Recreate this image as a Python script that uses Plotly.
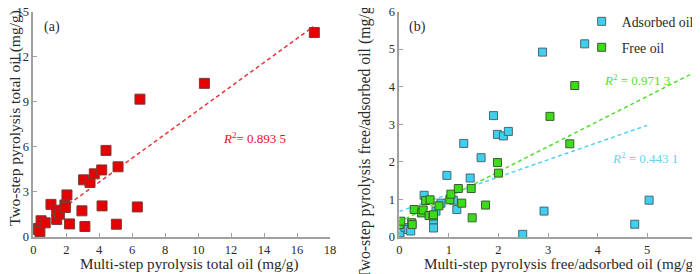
import plotly.graph_objects as go

# ---------------- data ----------------
# Panel (a): total oil
a_multi = [0.10, 0.15, 0.40, 0.47, 0.72, 1.07, 1.42, 1.42, 1.58, 1.92, 1.94, 2.04, 2.20,
           2.95, 3.05, 3.13, 3.44, 3.70, 4.15, 4.17, 4.41, 5.04, 5.14, 6.31, 6.47, 10.38, 17.05]
a_two = [0.57, 0.50, 0.37, 1.08, 0.94, 2.17, 1.78, 1.17, 1.52, 2.13, 1.96, 2.80, 0.87,
         1.74, 3.80, 0.70, 3.63, 4.20, 4.46, 2.07, 5.76, 0.85, 4.67, 2.00, 9.17, 10.22, 13.60]
a_fit_x = [0.1, 17.0]
a_fit_y = [0.55, 14.0]
a_r2 = "0.893 5"

# Panel (b): adsorbed oil
ads_multi = [0.01, 0.01, 0.12, 0.18, 0.23, 0.50, 0.69, 0.69, 0.74, 0.84, 0.96, 1.09, 1.16,
             1.30, 1.43, 1.65, 1.90, 1.98, 2.10, 2.20, 2.49, 2.89, 2.92, 3.74, 4.75, 5.04]
ads_two = [0.01, 0.11, 0.25, 0.20, 0.16, 1.11, 0.46, 0.24, 0.69, 0.90, 1.64, 0.98, 0.73,
           2.49, 1.57, 2.11, 3.23, 2.73, 2.69, 2.81, 0.07, 4.92, 0.69, 5.14, 0.34, 0.98]
# Panel (b): free oil
free_multi = [0.00, 0.03, 0.25, 0.26, 0.30, 0.45, 0.48, 0.53, 0.60, 0.62, 0.68, 0.69, 0.80,
              1.02, 1.04, 1.19, 1.26, 1.45, 1.47, 1.74, 1.98, 2.00, 3.04, 3.44, 3.54]
free_two = [0.33, 0.42, 0.38, 0.33, 0.73, 0.64, 0.72, 0.97, 0.57, 0.99, 0.56, 0.59, 0.83,
            0.99, 1.14, 1.29, 0.90, 1.29, 0.51, 0.85, 1.98, 1.70, 3.21, 2.48, 4.03]
ads_fit_x = [0.0, 5.0]
ads_fit_y = [0.68, 2.97]
free_fit_x = [0.0, 6.0]
free_fit_y = [0.40, 4.41]
ads_r2 = "0.443 1"
free_r2 = "0.971 3"

a_xticks = [0, 2, 4, 6, 8, 10, 12, 14, 16, 18]
a_yticks = [0, 3, 6, 9, 12, 15]
b_ticks = [0, 1, 2, 3, 4, 5, 6]

# ---------------- styles ----------------
FONT = "Liberation Serif"
TXT = "#2a2a2a"
AXC = "#a0a0a0"
DASH = "4px,3px"

fig = go.Figure()

fig.add_trace(go.Scatter(x=a_fit_x, y=a_fit_y, mode="lines", xaxis="x", yaxis="y",
                         line=dict(color="#e8343a", width=1.5, dash=DASH), showlegend=False))
fig.add_trace(go.Scatter(x=a_multi, y=a_two, mode="markers", xaxis="x", yaxis="y",
                         marker=dict(symbol="square", size=10, color="#e60000",
                                     line=dict(color="#7a3a3a", width=1)),
                         showlegend=False))

fig.add_trace(go.Scatter(x=free_fit_x, y=free_fit_y, mode="lines", xaxis="x2", yaxis="y2",
                         line=dict(color="#4ee02a", width=1.5, dash=DASH), showlegend=False))
fig.add_trace(go.Scatter(x=ads_fit_x, y=ads_fit_y, mode="lines", xaxis="x2", yaxis="y2",
                         line=dict(color="#4fd4ee", width=1.5, dash=DASH), showlegend=False))
fig.add_trace(go.Scatter(x=ads_multi, y=ads_two, mode="markers", xaxis="x2", yaxis="y2",
                         name="Adsorbed oil", legendgroup="ads",
                         marker=dict(symbol="square", size=8, color="#3fd0f0",
                                     line=dict(color="#4a6670", width=1))))
fig.add_trace(go.Scatter(x=free_multi, y=free_two, mode="markers", xaxis="x2", yaxis="y2",
                         name="Free oil", legendgroup="free",
                         marker=dict(symbol="square", size=8, color="#3ddc18",
                                     line=dict(color="#3a5a30", width=1))))

axis_common = dict(showline=True, linecolor=AXC, linewidth=1.5, ticks="inside", ticklen=4,
                   tickcolor=AXC, showgrid=False, zeroline=False, automargin=False,
                   tickangle=0, ticklabeloverflow="allow",
                   tickfont=dict(family=FONT, size=12.5, color=TXT))

# the page body adds an 8 px margin, so the figure is drawn 8 px smaller
W, H = 692, 266
fig.update_layout(
    width=W, height=H,
    margin=dict(l=0, r=0, t=0, b=0, autoexpand=False),
    paper_bgcolor="white", plot_bgcolor="white",
    font=dict(family=FONT, size=13, color=TXT),
    xaxis=dict(domain=[0.0366, 0.4653], range=[0, 18], tickvals=a_xticks, anchor="y", **axis_common),
    yaxis=dict(domain=[0.1391, 0.9868], range=[0, 15], tickvals=a_yticks, anchor="x", **axis_common),
    xaxis2=dict(domain=[0.5655, 0.9952], range=[0, 6], tickvals=b_ticks, anchor="y2", **axis_common),
    yaxis2=dict(domain=[0.1391, 0.9868], range=[0, 6], tickvals=b_ticks, anchor="x2", **axis_common),
    legend=dict(x=0.829, y=1.008, xanchor="left", yanchor="top", bgcolor="rgba(0,0,0,0)",
                font=dict(family=FONT, size=13.8, color=TXT), itemwidth=30,
                traceorder="grouped", tracegroupgap=5),
)

ann = [
    dict(text="(a)", x=1.16, y=14.0, xref="x", yref="y", showarrow=False,
         xanchor="center", yanchor="middle", font=dict(family=FONT, size=14, color=TXT)),
    dict(text="(b)", x=0.36, y=5.6, xref="x2", yref="y2", showarrow=False,
         xanchor="center", yanchor="middle", font=dict(family=FONT, size=14, color=TXT)),
    dict(text="<i>R</i><sup>2</sup>= " + a_r2, x=11.4, y=6.6, xref="x", yref="y",
         xanchor="left", yanchor="middle", showarrow=False,
         font=dict(family=FONT, size=13, color="#e8101a")),
    dict(text="<i>R</i><sup>2</sup> = " + free_r2, x=4.08, y=4.17, xref="x2", yref="y2",
         xanchor="left", yanchor="middle", showarrow=False,
         font=dict(family=FONT, size=13, color="#55e030")),
    dict(text="<i>R</i><sup>2</sup> = " + ads_r2, x=4.25, y=2.1, xref="x2", yref="y2",
         xanchor="left", yanchor="middle", showarrow=False,
         font=dict(family=FONT, size=13, color="#5ed6f0")),
    dict(text="Multi-step pyrolysis total oil (mg/g)", x=181.5 / W, y=10 / H, xref="paper",
         yref="paper", showarrow=False, xanchor="center", yanchor="middle",
         font=dict(family=FONT, size=15.2, color=TXT)),
    dict(text="Multi-step pyrolysis free/adsorbed oil (mg/g)", x=553 / W, y=10 / H,
         xref="paper", yref="paper", showarrow=False, xanchor="center", yanchor="middle",
         font=dict(family=FONT, size=15.2, color=TXT)),
    dict(text="Two-step pyrolysis total oil (mg/g)", x=6.5 / W, y=155.5 / H, xref="paper",
         yref="paper", showarrow=False, textangle=-90, xanchor="center", yanchor="middle",
         font=dict(family=FONT, size=15.5, color=TXT)),
    dict(text="Two-step pyrolysis free/adsorbed oil (mg/g)", x=357 / W, y=134 / H,
         xref="paper", yref="paper", showarrow=False, textangle=-90,
         xanchor="center", yanchor="middle", font=dict(family=FONT, size=15.8, color=TXT)),
]
fig.update_layout(annotations=ann)

fig.write_html("out.html")
